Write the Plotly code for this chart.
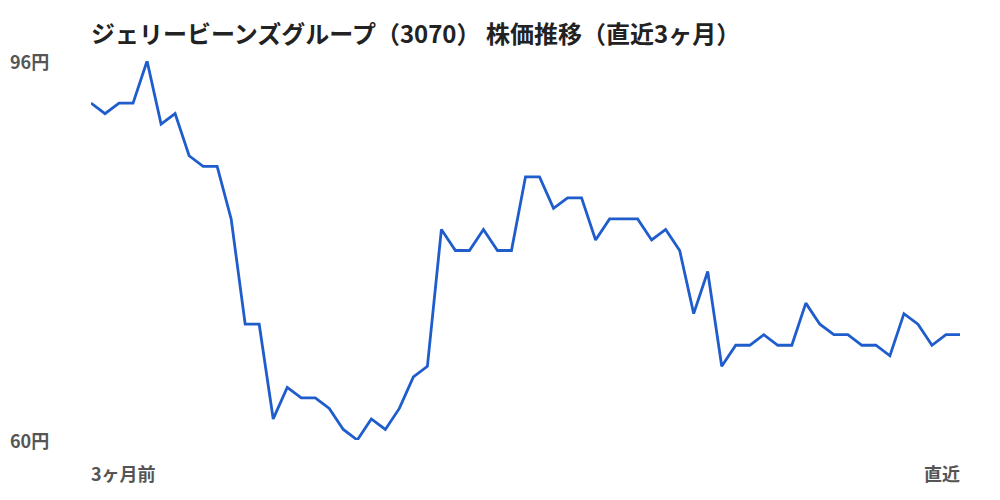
import plotly.graph_objects as go

# 株価（円）— 直近3ヶ月、日次終値
prices = [
    92, 91, 92, 92, 96, 90, 91, 87, 86, 86,
    81, 71, 71, 62, 65, 64, 64, 63, 61, 60,
    62, 61, 63, 66, 67, 80, 78, 78, 80, 78,
    78, 85, 85, 82, 83, 83, 79, 81, 81, 81,
    79, 80, 78, 72, 76, 67, 69, 69, 70, 69,
    69, 73, 71, 70, 70, 69, 69, 68, 72, 71,
    69, 70, 70,
]
days = list(range(len(prices)))

title = "ジェリービーンズグループ（3070） 株価推移（直近3ヶ月）"
y_min, y_max = 60, 96
x_labels = ["3ヶ月前", "直近"]

FONT = "Noto Sans CJK JP"
LABEL = dict(family=FONT, size=18, color="#555555")

fig = go.Figure(
    go.Scatter(
        x=days, y=prices, mode="lines",
        line=dict(color="#1f5ccc", width=2.8),
        hoverinfo="y",
    )
)

annotations = [
    dict(text=f"<b>{y_max}円</b>", x=-0.096, y=y_max, yref="y",
         xanchor="left", yanchor="middle"),
    dict(text=f"<b>{y_min}円</b>", x=-0.096, y=y_min, yref="y",
         xanchor="left", yanchor="middle"),
    dict(text=f"<b>{x_labels[0]}</b>", x=-0.002, y=-0.087,
         xanchor="left", yanchor="middle"),
    dict(text=f"<b>{x_labels[1]}</b>", x=1.002, y=-0.087,
         xanchor="right", yanchor="middle"),
]
for a in annotations:
    a.setdefault("xref", "paper")
    a.setdefault("yref", "paper")
    a.update(showarrow=False, font=LABEL)

# la page a une marge de 8px (body) -> on décale tout
fig.update_layout(
    width=1000, height=500,
    margin=dict(l=83, r=48, t=53, b=68),
    paper_bgcolor="white", plot_bgcolor="white",
    showlegend=False,
    title=dict(
        text=f"<b>{title}</b>", x=0, xref="paper", xanchor="left",
        y=1 - 27 / 500, yref="container", yanchor="middle",
        font=dict(family=FONT, size=24, color="#222222"),
    ),
    annotations=annotations,
)
fig.update_xaxes(visible=False, range=[0, len(prices) - 1])
fig.update_yaxes(visible=False, range=[y_min, y_max])

fig.write_html("out.html")
